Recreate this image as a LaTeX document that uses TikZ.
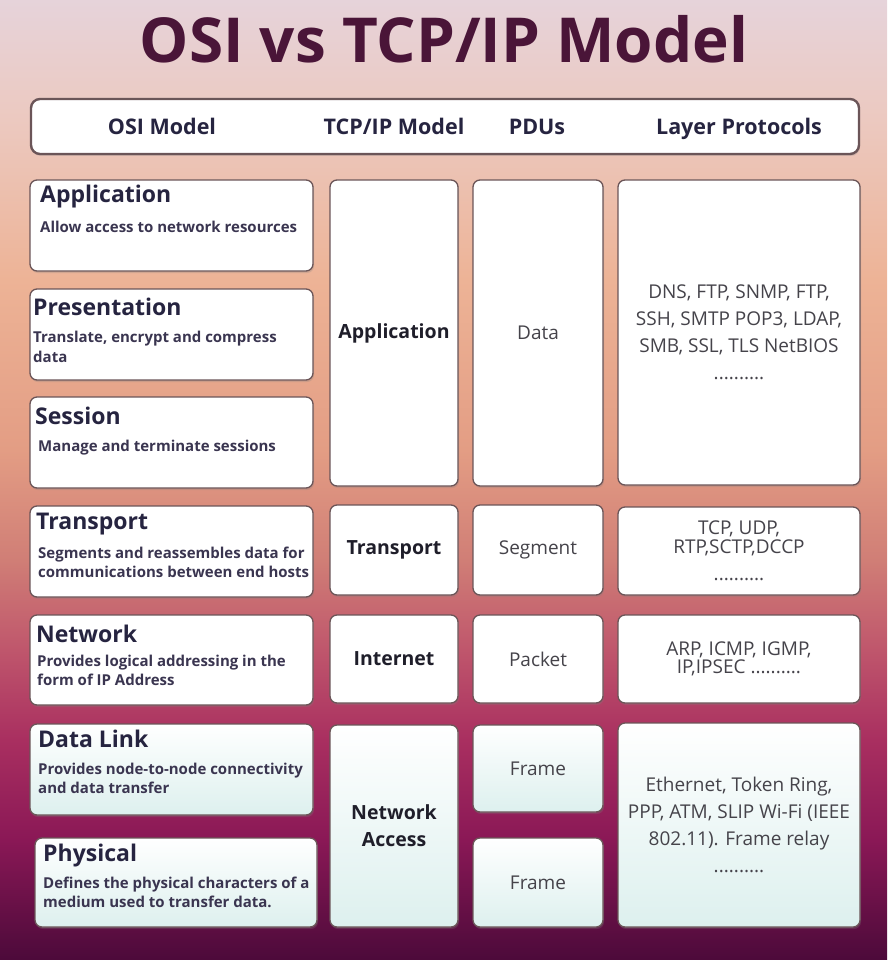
\documentclass[tikz,border=0pt]{standalone}
\usepackage{fontspec}
\setmainfont{Open Sans}
\usetikzlibrary{positioning, shadows}

\definecolor{bgA}{HTML}{E6D3DA}
\definecolor{bgB}{HTML}{ECC9C0}
\definecolor{bgC}{HTML}{EDB396}
\definecolor{bgD}{HTML}{E39D84}
\definecolor{bgE}{HTML}{D07E76}
\definecolor{bgF}{HTML}{BF566C}
\definecolor{bgG}{HTML}{A92F60}
\definecolor{bgH}{HTML}{8A1856}
\definecolor{bgI}{HTML}{4C0A3A}
\definecolor{titlecol}{HTML}{4A1538}
\definecolor{navytext}{HTML}{262440}
\definecolor{desctext}{HTML}{3A3550}
\definecolor{darktext}{HTML}{1F1E2A}
\definecolor{graytext}{HTML}{45434A}
\definecolor{boxline}{HTML}{6B5558}
\definecolor{tint}{HTML}{DDF0EE}

\pgfdeclareverticalshading{backdrop}{100bp}{color(0bp)=(bgI); color(25bp)=(bgI);
  color(31.25bp)=(bgH); color(36.46bp)=(bgG); color(41.15bp)=(bgF); color(45.83bp)=(bgE);
  color(51.56bp)=(bgD); color(60.42bp)=(bgC); color(68.75bp)=(bgB); color(75bp)=(bgA); color(100bp)=(bgA)}

\tikzset{
  box/.style={draw=boxline, line width=1.3pt, rounded corners=7pt, fill=white,
    inner sep=0pt, outer sep=0pt,
    drop shadow={opacity=0.25, shadow xshift=1pt, shadow yshift=-2pt}},
  lowbox/.style={box, top color=white, bottom color=tint},
  layername/.style={anchor=base west, inner sep=0pt, text=navytext,
    font=\bfseries\fontsize{23}{27}\selectfont},
  layerdesc/.style={anchor=north west, align=left, inner sep=0pt, text=desctext,
    font=\bfseries\fontsize{15}{19.5}\selectfont},
  headtext/.style={anchor=base, inner sep=0pt, text=navytext,
    font=\bfseries\fontsize{21.5}{26}\selectfont},
  tcptext/.style={align=center, inner sep=0pt, text=darktext,
    font=\bfseries\fontsize{19.5}{27}\selectfont},
  pdutext/.style={inner sep=0pt, text=graytext, font=\fontsize{19}{27}\selectfont},
  prototext/.style={align=center, inner sep=0pt, text=graytext,
    font=\fontsize{19}{27}\selectfont},
}

\begin{document}
\begin{tikzpicture}[x=1pt, y=-1pt]
    \useasboundingbox (0,0) rectangle (887,960);
    %sfondo
    \shade[shading=backdrop] (0,0) rectangle (887,960);

    %titolo
    \node[anchor=base, inner sep=0pt, text=titlecol,
      font=\bfseries\fontsize{62}{70}\selectfont] (title) at (444,63) {OSI vs TCP/IP Model};

    %intestazione
    \node[box, line width=2.4pt, rounded corners=9pt, minimum width=828pt, minimum height=55pt] (header) at (445,126.5) {};
    \node[headtext] (hosi) at (162,135) {OSI Model};
    \node[headtext] (htcp) at (394,135) {TCP/IP Model};
    \node[headtext] (hpdu) at (537,135) {PDUs};
    \node[headtext] (hproto) at (739,135) {Layer Protocols};

    %colonna OSI
    \node[box, minimum width=283pt, minimum height=91pt] (osiapp) at (171.5,225.5) {};
    \node[box, minimum width=283pt, minimum height=91pt] (osipres) at (171.5,334.5) {};
    \node[box, minimum width=283pt, minimum height=91pt] (osisess) at (171.5,442.5) {};
    \node[box, minimum width=283pt, minimum height=91pt] (ositrans) at (171.5,551.5) {};
    \node[box, minimum width=283pt, minimum height=90pt] (osinet) at (171.5,660) {};
    \node[lowbox, minimum width=283pt, minimum height=91pt] (osilink) at (171.5,769.5) {};
    \node[lowbox, minimum width=282pt, minimum height=89pt] (osiphys) at (176,882.5) {};

    \node[layername] (nameapp) at (40,202) {Application};
    \node[layerdesc] (descapp) at (40,220.5) {Allow access to network resources};
    \node[layername] (namepres) at (33,315) {Presentation};
    \node[layerdesc] (descpres) at (33,331) {Translate, encrypt and compress\\data};
    \node[layername] (namesess) at (35,424) {Session};
    \node[layerdesc] (descsess) at (38,439.5) {Manage and terminate sessions};
    \node[layername] (nametrans) at (36,529) {Transport};
    \node[layerdesc] (desctrans) at (38,546.5) {Segments and reassembles data for\\communications between end hosts};
    \node[layername] (namenet) at (36,642) {Network};
    \node[layerdesc] (descnet) at (37,654.5) {Provides logical addressing in the\\form of IP Address};
    \node[layername] (namelink) at (38,747) {Data Link};
    \node[layerdesc] (desclink) at (38,762.5) {Provides node-to-node connectivity\\and data transfer};
    \node[layername] (namephys) at (43,861) {Physical};
    \node[layerdesc] (descphys) at (43,876.5) {Defines the physical characters of a\\medium used to transfer data.};

    %colonna TCP/IP
    \node[box, minimum width=128pt, minimum height=306pt] (tcpapp) at (394,333) {};
    \node[box, minimum width=128pt, minimum height=90pt] (tcptrans) at (394,550) {};
    \node[box, minimum width=128pt, minimum height=88pt] (tcpinet) at (394,659) {};
    \node[lowbox, minimum width=128pt, minimum height=202pt] (tcpacc) at (394,826) {};
    \node[tcptext] (tcpapptxt) at (tcpapp) {Application};
    \node[tcptext] (tcptranstxt) at (tcptrans) {Transport};
    \node[tcptext] (tcpinettxt) at (tcpinet) {Internet};
    \node[tcptext] (tcpacctxt) at (tcpacc) {Network\\Access};

    %colonna PDU
    \node[box, minimum width=130pt, minimum height=306pt] (pduapp) at (538,333) {};
    \node[box, minimum width=130pt, minimum height=90pt] (pduseg) at (538,550) {};
    \node[box, minimum width=130pt, minimum height=88pt] (pdupkt) at (538,659) {};
    \node[lowbox, minimum width=130pt, minimum height=87pt] (pduframeA) at (538,768.5) {};
    \node[lowbox, minimum width=130pt, minimum height=89pt] (pduframeB) at (538,882.5) {};
    \node[pdutext] (pduapptxt) at (pduapp) {Data};
    \node[pdutext] (pdusegtxt) at (pduseg) {Segment};
    \node[pdutext] (pdupkttxt) at (pdupkt) {Packet};
    \node[pdutext] (pduframeAtxt) at (pduframeA) {Frame};
    \node[pdutext] (pduframeBtxt) at (pduframeB) {Frame};

    %colonna protocolli
    \node[box, minimum width=242pt, minimum height=305pt] (protoapp) at (739,332.5) {};
    \node[box, minimum width=242pt, minimum height=88pt] (prototrans) at (739,551) {};
    \node[box, minimum width=242pt, minimum height=88pt] (protoinet) at (739,659) {};
    \node[lowbox, minimum width=242pt, minimum height=204pt] (protoacc) at (739,825) {};
    \node[prototext] (protoapptxt) at (protoapp) {DNS, FTP, SNMP, FTP,\\SSH, SMTP POP3, LDAP,\\SMB, SSL, TLS NetBIOS\\..........};
    \node[prototext, font=\fontsize{19}{19}\selectfont] (prototranstxt) at (prototrans) {TCP, UDP,\\RTP,SCTP,DCCP\\[8pt]..........};
    \node[prototext, font=\fontsize{19}{18}\selectfont] (protoinettxt) at (protoinet) {ARP, ICMP, IGMP,\\IP,IPSEC ..........};
    \node[prototext] (protoacctxt) at (protoacc) {Ethernet, Token Ring,\\PPP, ATM, SLIP Wi-Fi (IEEE\\802.11). Frame relay\\..........};
\end{tikzpicture}
\end{document}
